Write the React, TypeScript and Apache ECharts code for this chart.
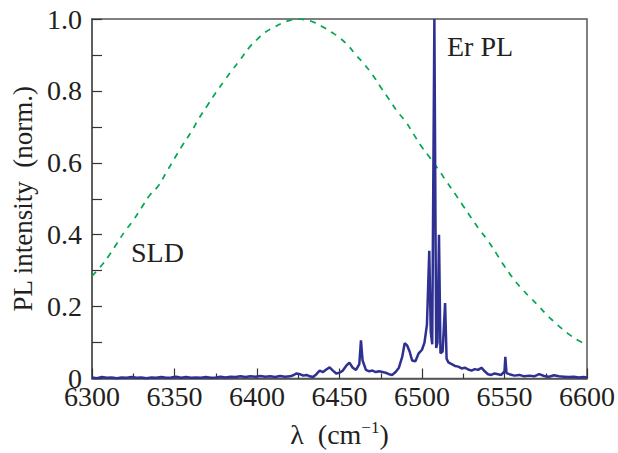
import React, { useEffect, useRef } from "react";
import * as echarts from "echarts";

// SLD spectrum (dashed green)
const sldX = [6300, 6305, 6310, 6315, 6320, 6325, 6330, 6335, 6340, 6345, 6350, 6355, 6360, 6365, 6370, 6375, 6380, 6385, 6390, 6395, 6400, 6405, 6410, 6415, 6420, 6425, 6430, 6435, 6440, 6445, 6450, 6455, 6460, 6465, 6470, 6475, 6480, 6485, 6490, 6495, 6500, 6505, 6510, 6515, 6520, 6525, 6530, 6535, 6540, 6545, 6550, 6555, 6560, 6565, 6570, 6575, 6580, 6585, 6590, 6595, 6600];
const sldY = [0.285, 0.31, 0.34, 0.375, 0.41, 0.44, 0.475, 0.51, 0.535, 0.573, 0.612, 0.65, 0.685, 0.725, 0.76, 0.795, 0.827, 0.858, 0.888, 0.919, 0.943, 0.963, 0.976, 0.988, 0.996, 1.0, 0.997, 0.99, 0.978, 0.964, 0.948, 0.927, 0.9, 0.874, 0.845, 0.81, 0.777, 0.743, 0.715, 0.679, 0.643, 0.613, 0.581, 0.547, 0.514, 0.48, 0.446, 0.413, 0.383, 0.348, 0.312, 0.28, 0.252, 0.228, 0.205, 0.18, 0.158, 0.138, 0.12, 0.105, 0.095];

// Er PL spectrum (solid navy)
const plX = [6300, 6303, 6306, 6309, 6312, 6315, 6318, 6321, 6324, 6327, 6330, 6333, 6336, 6339, 6342, 6345, 6348, 6351, 6354, 6357, 6360, 6363, 6366, 6369, 6372, 6375, 6378, 6381, 6384, 6387, 6390, 6393, 6396, 6399, 6402, 6405, 6408, 6411, 6414, 6417, 6420, 6422, 6424, 6426, 6428, 6430, 6432, 6434, 6436, 6438, 6440, 6442, 6444, 6446, 6448, 6450, 6452, 6454, 6456, 6458, 6460, 6462, 6463, 6464, 6466, 6468, 6470, 6472, 6474, 6476, 6478, 6480, 6482, 6484, 6486, 6488, 6489.5, 6491, 6492.5, 6494, 6496, 6498, 6500, 6501.5, 6503, 6504.4, 6505.3, 6506.2, 6507.5, 6508.6, 6509.4, 6510.3, 6511.2, 6512.5, 6514, 6514.9, 6516, 6518, 6520, 6522, 6524, 6526, 6528, 6530, 6532, 6534, 6536, 6538, 6540, 6542, 6544, 6546, 6548, 6550, 6550.5, 6551.2, 6553, 6556, 6559, 6562, 6565, 6568, 6571, 6574, 6577, 6580, 6583, 6586, 6589, 6592, 6595, 6598, 6600];
const plY = [0.003, 0.001, 0.004, 0.002, 0.003, 0.001, 0.003, 0.002, 0.004, 0.002, 0.003, 0.001, 0.003, 0.002, 0.004, 0.002, 0.003, 0.005, 0.002, 0.004, 0.002, 0.003, 0.002, 0.004, 0.002, 0.003, 0.005, 0.003, 0.005, 0.004, 0.006, 0.004, 0.006, 0.005, 0.007, 0.005, 0.006, 0.004, 0.007, 0.005, 0.006, 0.009, 0.014, 0.012, 0.008, 0.01, 0.006, 0.004, 0.012, 0.022, 0.018, 0.025, 0.031, 0.022, 0.014, 0.016, 0.022, 0.035, 0.044, 0.03, 0.024, 0.04, 0.106, 0.05, 0.024, 0.02, 0.022, 0.018, 0.02, 0.018, 0.016, 0.012, 0.01, 0.018, 0.03, 0.06, 0.098, 0.092, 0.075, 0.05, 0.048, 0.07, 0.08, 0.1, 0.15, 0.355, 0.13, 0.095, 1.0, 0.085, 0.1, 0.4, 0.07, 0.075, 0.21, 0.055, 0.045, 0.04, 0.035, 0.033, 0.028, 0.03, 0.025, 0.022, 0.026, 0.024, 0.03, 0.02, 0.012, 0.01, 0.014, 0.012, 0.01, 0.02, 0.06, 0.015, 0.012, 0.008, 0.01, 0.006, 0.008, 0.006, 0.012, 0.007, 0.005, 0.009, 0.006, 0.005, 0.004, 0.005, 0.003, 0.004, 0.003];

const xTicks = [6300, 6350, 6400, 6450, 6500, 6550, 6600];
const yTicks = [0, 0.2, 0.4, 0.6, 0.8, 1.0];

const FONT = "'Liberation Serif', 'DejaVu Serif', serif";
const TEXT = "#231f20";
const AXIS = "#555555";

export default function App() {
  const ref = useRef<HTMLDivElement>(null);
  useEffect(() => {
    if (!ref.current) return;
    const chart = echarts.init(ref.current, undefined, { renderer: "svg" });
    const option: any = {
      animation: false,
      backgroundColor: "#ffffff",
      textStyle: { fontFamily: FONT },
      grid: {
        left: 92,
        right: 31,
        top: 19,
        bottom: 72,
        show: true,
        borderColor: AXIS,
        borderWidth: 1.5,
        backgroundColor: "transparent",
      },
      xAxis: {
        type: "value",
        min: xTicks[0],
        max: xTicks[xTicks.length - 1],
        interval: 50,
        name: "{l|λ}{p|(cm}{s|−1}{p|)}",
        nameLocation: "middle",
        nameGap: 40,
        nameTextStyle: {
          rich: {
            l: { fontFamily: FONT, fontSize: 28, color: TEXT, padding: [0, 14, 0, 0] },
            p: { fontFamily: FONT, fontSize: 28, color: TEXT },
            s: { fontFamily: FONT, fontSize: 17, color: TEXT, verticalAlign: "top", padding: [0, 0, 14, 0] },
          },
        },
        axisLine: { show: true, onZero: false, lineStyle: { color: AXIS, width: 1.5 } },
        axisTick: { show: true, inside: true, length: 10, lineStyle: { color: "#333", width: 1.2 } },
        minorTick: { show: true, splitNumber: 2, length: 5, lineStyle: { color: "#333", width: 1.2 } },
        axisLabel: {
          fontFamily: FONT,
          fontSize: 28,
          lineHeight: 18,
          color: TEXT,
          margin: 9,
          formatter: (v: number) => String(v),
        },
        splitLine: { show: false },
        minorSplitLine: { show: false },
      },
      yAxis: {
        type: "value",
        min: yTicks[0],
        max: yTicks[yTicks.length - 1],
        interval: 0.2,
        name: "PL intensity  (norm.)",
        nameLocation: "middle",
        nameGap: 52,
        nameRotate: 90,
        nameTextStyle: { fontFamily: FONT, fontSize: 27, color: TEXT },
        axisLine: { show: true, lineStyle: { color: AXIS, width: 1.5 } },
        axisTick: { show: true, inside: true, length: 10, lineStyle: { color: "#333", width: 1.2 } },
        minorTick: { show: true, splitNumber: 2, length: 10, lineStyle: { color: "#333", width: 1.2 } },
        axisLabel: {
          fontFamily: FONT,
          fontSize: 28,
          color: TEXT,
          margin: 10,
          formatter: (v: number) => (v === 0 ? "{z|0}" : v.toFixed(1)),
          rich: { z: { fontFamily: FONT, fontSize: 28, lineHeight: 16, color: TEXT } },
        },
        splitLine: { show: false },
        minorSplitLine: { show: false },
      },
      series: [
        {
          name: "SLD",
          type: "line",
          data: sldX.map((x, i) => [x, sldY[i]]),
          showSymbol: false,
          smooth: true,
          lineStyle: { color: "#00a650", width: 1.7, type: [6, 6] },
          z: 2,
        },
        {
          name: "Er PL",
          type: "line",
          data: plX.map((x, i) => [x, plY[i]]),
          showSymbol: false,
          lineStyle: { color: "#2e3192", width: 2.5 },
          z: 3,
        },
      ],
      graphic: [
        { type: "text", left: 447, top: 32, style: { text: "Er PL", font: `28px ${FONT}`, fill: TEXT } },
        { type: "text", left: 131, top: 238, style: { text: "SLD", font: `28px ${FONT}`, fill: TEXT } },
      ],
    };
    chart.setOption(option);
    return () => chart.dispose();
  }, []);
  return <div ref={ref} style={{ width: 618, height: 453, position: "absolute", left: 0, top: 0 }} />;
}
